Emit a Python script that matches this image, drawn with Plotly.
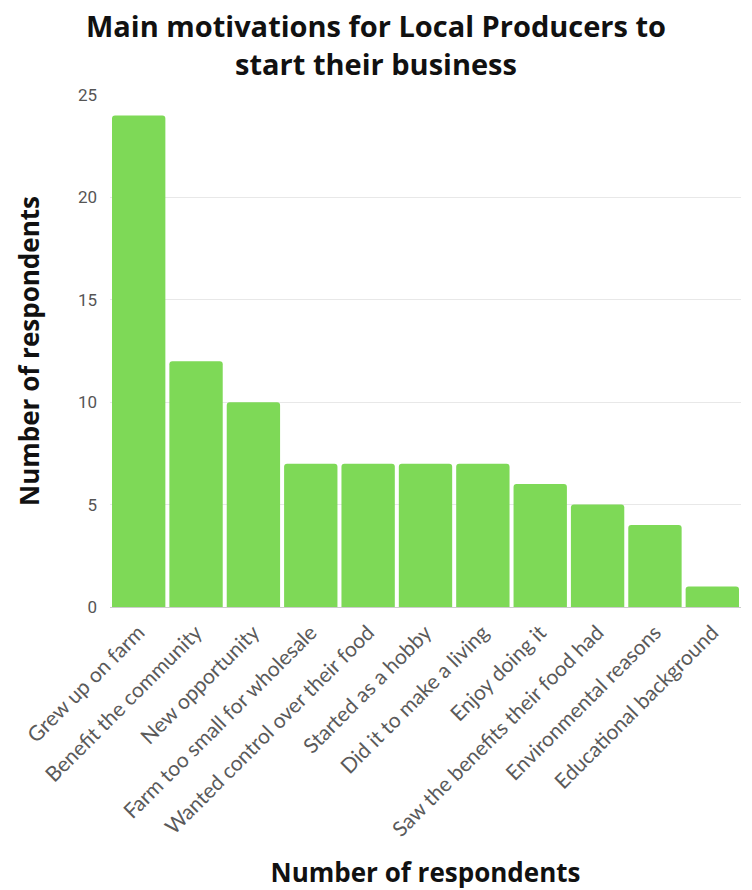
import plotly.graph_objects as go

# Survey responses: main motivations for local producers to start their business
motivations = [
    "Grew up on farm",
    "Benefit the community",
    "New opportunity",
    "Farm too small for wholesale",
    "Wanted control over their food",
    "Started as a hobby",
    "Did it to make a living",
    "Enjoy doing it",
    "Saw the benefits their food had",
    "Environmental reasons",
    "Educational background",
]
respondents = [24, 12, 10, 7, 7, 7, 7, 6, 5, 4, 1]
y_ticks = [0, 5, 10, 15, 20, 25]

bar_color = "#7ed957"
heading_font = "Open Sans, Lato, sans-serif"

fig = go.Figure(
    go.Bar(
        x=motivations,
        y=respondents,
        marker=dict(color=bar_color, line=dict(width=0)),
        hoverinfo="x+y",
    )
)

fig.update_layout(
    width=752,
    height=890,
    margin=dict(l=110, r=11, t=95, b=283),
    paper_bgcolor="white",
    plot_bgcolor="white",
    bargap=0.07,
    barcornerradius=3,
    showlegend=False,
    title=dict(
        text="<b>Main motivations for Local Producers to<br>start their business</b>",
        x=0.5,
        xanchor="center",
        yref="container",
        y=0.958,
        yanchor="middle",
        font=dict(family=heading_font, size=29, color="#111111"),
    ),
    font=dict(family="Lato, sans-serif"),
)

fig.update_yaxes(
    range=[0, 25],
    tickvals=y_ticks,
    automargin=False,
    showgrid=True,
    gridcolor="#e8e8e8",
    gridwidth=1,
    zeroline=False,
    showline=False,
    ticks="",
    ticklen=0,
    ticklabelstandoff=12,
    tickfont=dict(family="Roboto, sans-serif", size=17, color="#555555"),
    title=dict(
        text="<b>Number of respondents</b>",
        font=dict(family=heading_font, size=26, color="#111111"),
        standoff=30,
    ),
)

fig.update_xaxes(
    tickangle=-45,
    automargin=False,
    showline=True,
    linecolor="#cccccc",
    linewidth=1,
    showgrid=False,
    ticks="",
    ticklabelstandoff=4,
    tickfont=dict(family="Lato, sans-serif", size=21, color="#5a5a5a"),
    title=dict(
        text="<b>Number of respondents</b>",
        font=dict(family=heading_font, size=26, color="#111111"),
        standoff=24,
    ),
)

fig.write_html("out.html")
